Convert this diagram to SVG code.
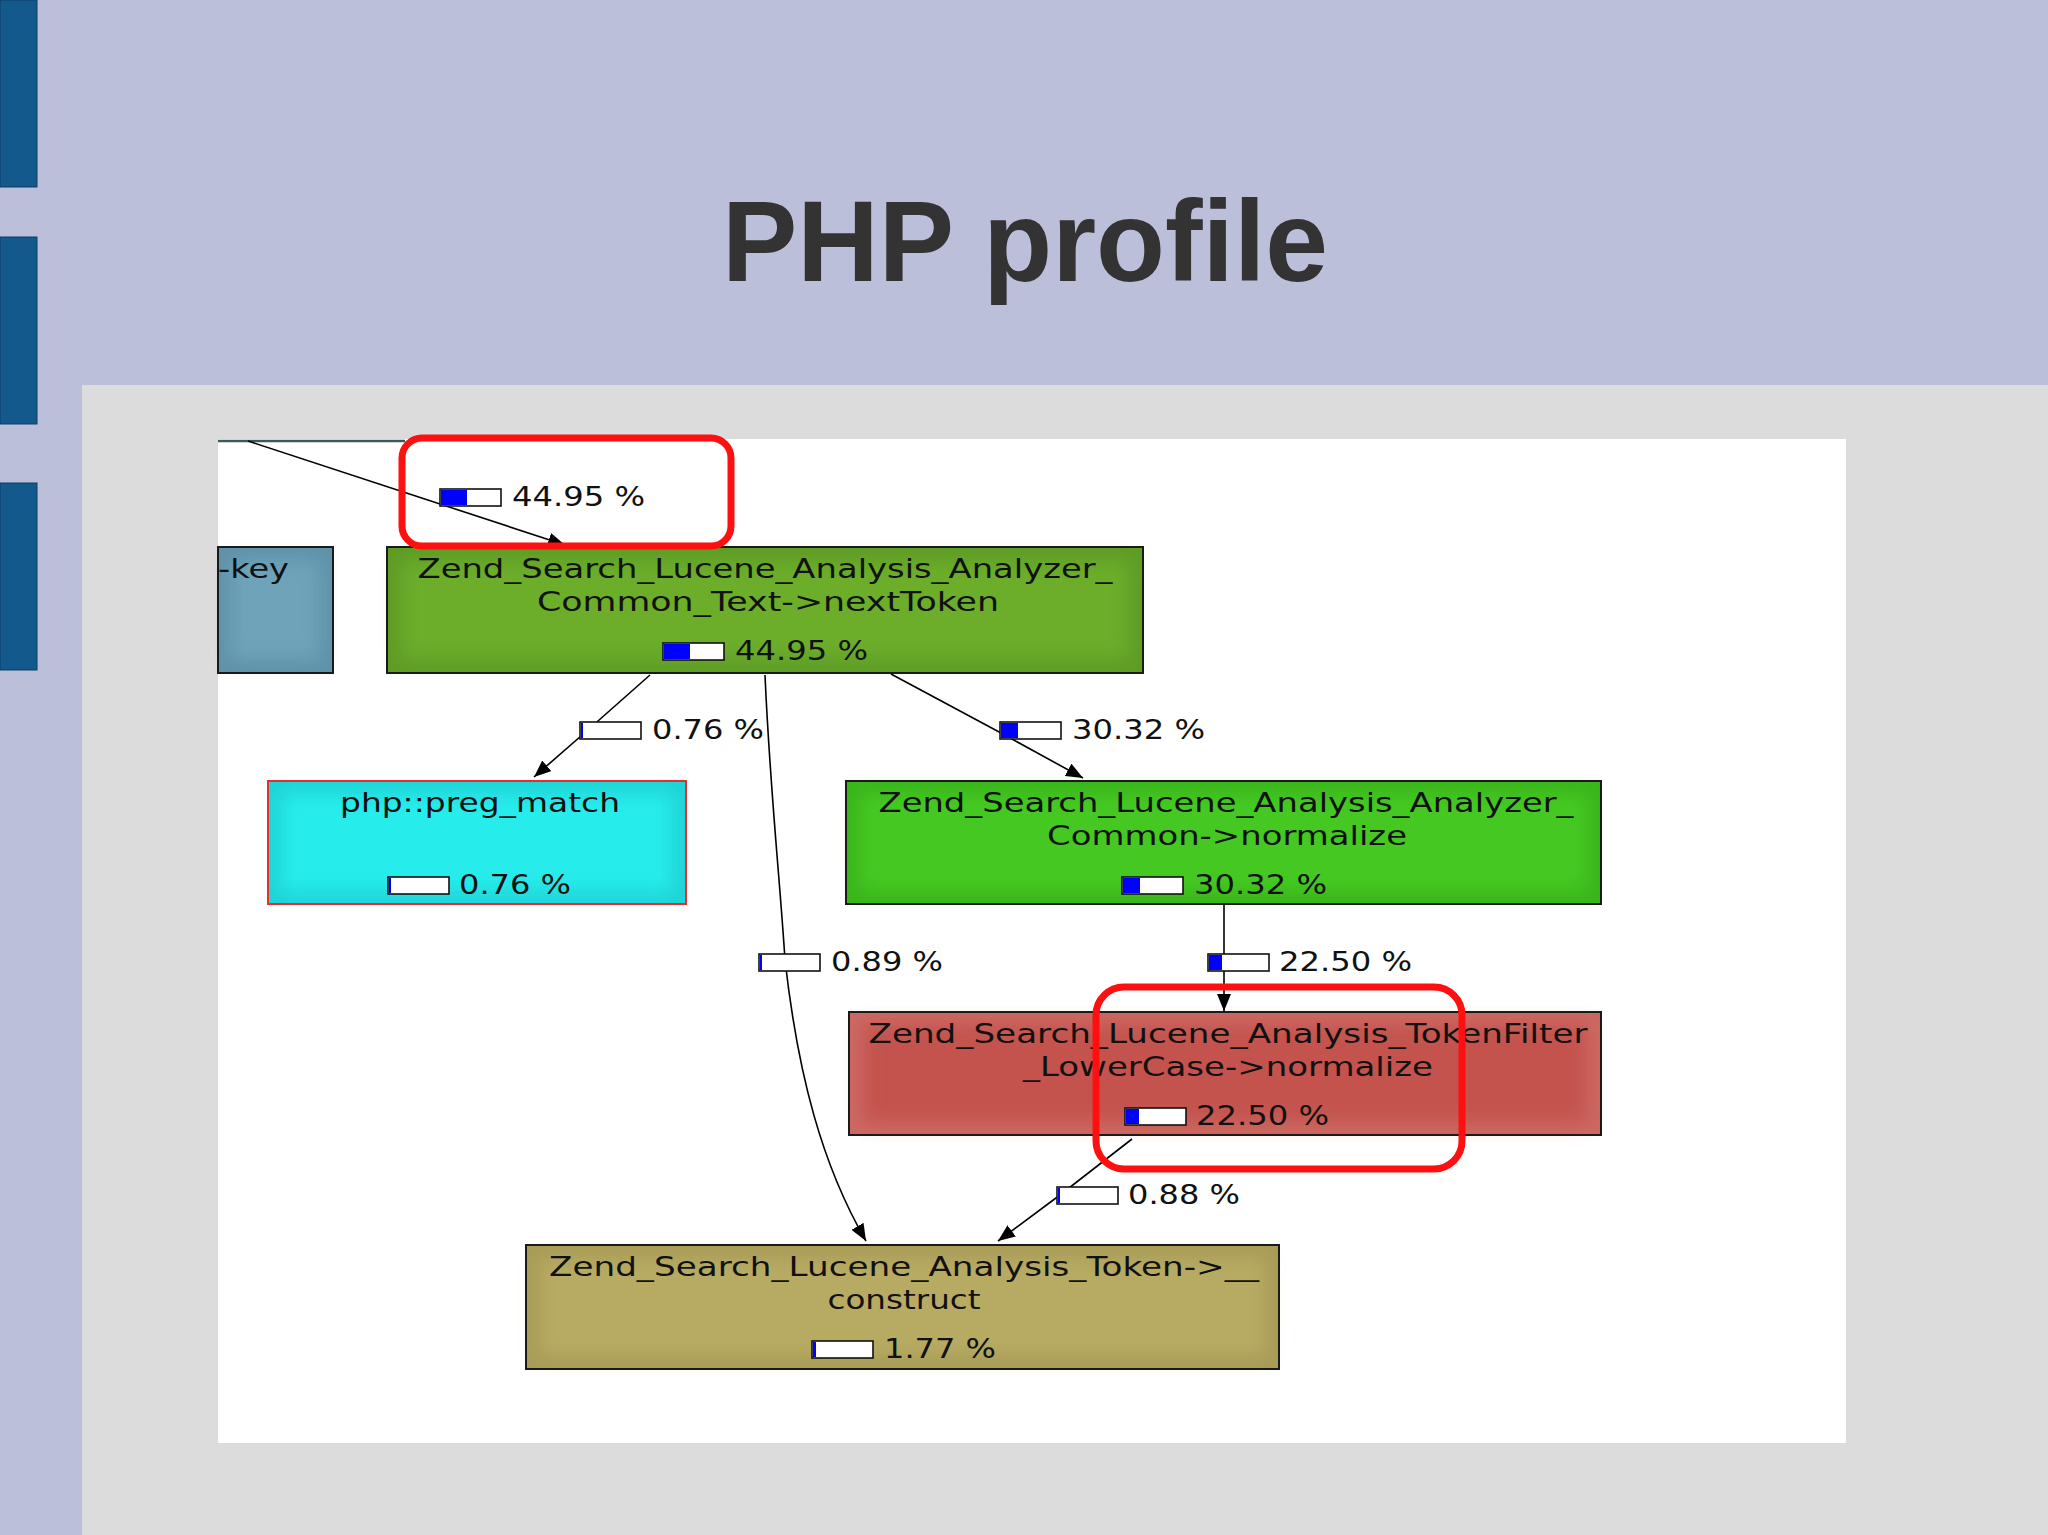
<svg xmlns="http://www.w3.org/2000/svg" width="2048" height="1535" viewBox="0 0 2048 1535">
<defs>
<style>
.t{font-family:"DejaVu Sans","Liberation Sans",sans-serif;font-size:27px;fill:#111;}
.nb{stroke:#1a1a1a;stroke-width:2;}
.bar{fill:#fff;stroke:#111;stroke-width:1.6;}
.blue{fill:#0000ff;}
.edge{fill:none;stroke:#000;stroke-width:1.6;}
.hl{fill:none;stroke:#ff1010;stroke-width:7;}
.glow{filter:url(#blur);}
</style>
<filter id="blur" x="-20%" y="-20%" width="140%" height="140%"><feGaussianBlur stdDeviation="9"/></filter>
<marker id="arr" markerUnits="userSpaceOnUse" markerWidth="18" markerHeight="14" refX="17" refY="7" orient="auto">
<path d="M0,0 L17,7 L0,14 z" fill="#000"/>
</marker>
</defs>
<rect x="0" y="0" width="2048" height="1535" fill="#bbbfda"/>
<rect x="0" y="0" width="37" height="187" fill="#13598b" stroke="#0c3f66" stroke-width="1"/>
<rect x="0" y="237" width="37" height="187" fill="#13598b" stroke="#0c3f66" stroke-width="1"/>
<rect x="0" y="483" width="37" height="187" fill="#13598b" stroke="#0c3f66" stroke-width="1"/>
<rect x="82" y="385" width="1966" height="1150" fill="#dcdcdc"/>
<rect x="218" y="439" width="1628" height="1004" fill="#ffffff"/>
<text x="1025" y="281" text-anchor="middle" font-family="Liberation Sans,Arial,sans-serif" font-weight="bold" font-size="115" fill="#333333" textLength="606" lengthAdjust="spacingAndGlyphs">PHP profile</text>

<line x1="218" y1="441" x2="405" y2="441" stroke="#3c5a5a" stroke-width="2.5"/>

<g id="node-key">
<rect x="218" y="547" width="115" height="126" fill="#5f92a8" class="nb"/>
<rect x="230" y="560" width="90" height="100" fill="#6ea3b9" class="glow"/>
<rect x="218" y="547" width="115" height="126" fill="none" class="nb"/>
<text class="t" x="218" y="578" textLength="71" lengthAdjust="spacingAndGlyphs">-key</text>
</g>

<g id="node-nextToken">
<rect x="387" y="547" width="756" height="126" fill="#5e9c25"/>
<rect x="402" y="561" width="726" height="98" fill="#6cad2c" class="glow"/>
<rect x="387" y="547" width="756" height="126" fill="none" class="nb"/>
<text class="t" x="765" y="578" text-anchor="middle" textLength="695" lengthAdjust="spacingAndGlyphs">Zend_Search_Lucene_Analysis_Analyzer_</text>
<text class="t" x="768" y="611" text-anchor="middle" textLength="462" lengthAdjust="spacingAndGlyphs">Common_Text-&gt;nextToken</text>
<rect class="bar" x="663" y="643" width="61" height="17"/>
<rect class="blue" x="664" y="644" width="26" height="15"/>
<text class="t" x="735" y="660" textLength="133" lengthAdjust="spacingAndGlyphs">44.95 %</text>
</g>

<g id="node-preg_match">
<rect x="268" y="781" width="418" height="123" fill="#1fd4d6"/>
<rect x="282" y="794" width="390" height="97" fill="#27ecec" class="glow"/>
<rect x="268" y="781" width="418" height="123" fill="none" stroke="#e03030" stroke-width="2"/>
<text class="t" x="480" y="812" text-anchor="middle" textLength="280" lengthAdjust="spacingAndGlyphs">php::preg_match</text>
<rect class="bar" x="388" y="877" width="61" height="17"/>
<rect class="blue" x="389" y="878" width="2" height="15"/>
<text class="t" x="459" y="894" textLength="112" lengthAdjust="spacingAndGlyphs">0.76 %</text>
</g>

<g id="node-normalize">
<rect x="846" y="781" width="755" height="123" fill="#3ab51b"/>
<rect x="860" y="794" width="727" height="97" fill="#45c923" class="glow"/>
<rect x="846" y="781" width="755" height="123" fill="none" class="nb"/>
<text class="t" x="1226" y="812" text-anchor="middle" textLength="695" lengthAdjust="spacingAndGlyphs">Zend_Search_Lucene_Analysis_Analyzer_</text>
<text class="t" x="1227" y="845" text-anchor="middle" textLength="360" lengthAdjust="spacingAndGlyphs">Common-&gt;normalize</text>
<rect class="bar" x="1122" y="877" width="61" height="17"/>
<rect class="blue" x="1123" y="878" width="17" height="15"/>
<text class="t" x="1194" y="894" textLength="133" lengthAdjust="spacingAndGlyphs">30.32 %</text>
</g>

<g id="node-lowercase">
<rect x="849" y="1012" width="752" height="123" fill="#cc6862"/>
<rect x="863" y="1025" width="724" height="97" fill="#c4524d" class="glow"/>
<rect x="849" y="1012" width="752" height="123" fill="none" class="nb"/>
<text class="t" x="1228" y="1043" text-anchor="middle" textLength="719" lengthAdjust="spacingAndGlyphs">Zend_Search_Lucene_Analysis_TokenFilter</text>
<text class="t" x="1228" y="1076" text-anchor="middle" textLength="410" lengthAdjust="spacingAndGlyphs">_LowerCase-&gt;normalize</text>
<rect class="bar" x="1125" y="1108" width="61" height="17"/>
<rect class="blue" x="1126" y="1109" width="13" height="15"/>
<text class="t" x="1196" y="1125" textLength="133" lengthAdjust="spacingAndGlyphs">22.50 %</text>
</g>

<g id="node-token">
<rect x="526" y="1245" width="753" height="124" fill="#a89b57"/>
<rect x="540" y="1258" width="725" height="98" fill="#b7ab64" class="glow"/>
<rect x="526" y="1245" width="753" height="124" fill="none" class="nb"/>
<text class="t" x="904" y="1276" text-anchor="middle" textLength="710" lengthAdjust="spacingAndGlyphs">Zend_Search_Lucene_Analysis_Token-&gt;__</text>
<text class="t" x="904" y="1309" text-anchor="middle" textLength="153" lengthAdjust="spacingAndGlyphs">construct</text>
<rect class="bar" x="812" y="1341" width="61" height="17"/>
<rect class="blue" x="813" y="1342" width="3" height="15"/>
<text class="t" x="884" y="1358" textLength="112" lengthAdjust="spacingAndGlyphs">1.77 %</text>
</g>

<g id="connectors">
<path class="edge" d="M248,441 L565,545" marker-end="url(#arr)"/>
<path class="edge" d="M650,675 L581,736 L534,777" marker-end="url(#arr)"/>
<path class="edge" d="M765,675 C770,790 780,880 785,960 C798,1075 822,1165 866,1241" marker-end="url(#arr)"/>
<path class="edge" d="M891,674 L1001,733 L1083,778" marker-end="url(#arr)"/>
<path class="edge" d="M1224,905 L1224,1011" marker-end="url(#arr)"/>
<path class="edge" d="M1132,1139 L1060,1195 L998,1241" marker-end="url(#arr)"/>

<g id="label-44">
<rect class="bar" x="440" y="489" width="61" height="17"/>
<rect class="blue" x="441" y="490" width="26" height="15"/>
<text class="t" x="512" y="506" textLength="133" lengthAdjust="spacingAndGlyphs">44.95 %</text>
</g>
<g id="label-076">
<rect class="bar" x="580" y="722" width="61" height="17"/>
<rect class="blue" x="581" y="723" width="2" height="15"/>
<text class="t" x="652" y="739" textLength="112" lengthAdjust="spacingAndGlyphs">0.76 %</text>
</g>
<g id="label-3032">
<rect class="bar" x="1000" y="722" width="61" height="17"/>
<rect class="blue" x="1001" y="723" width="17" height="15"/>
<text class="t" x="1072" y="739" textLength="133" lengthAdjust="spacingAndGlyphs">30.32 %</text>
</g>
<g id="label-089">
<rect class="bar" x="759" y="954" width="61" height="17"/>
<rect class="blue" x="760" y="955" width="2" height="15"/>
<text class="t" x="831" y="971" textLength="112" lengthAdjust="spacingAndGlyphs">0.89 %</text>
</g>
<g id="label-2250">
<rect class="bar" x="1208" y="954" width="61" height="17"/>
<rect class="blue" x="1209" y="955" width="13" height="15"/>
<text class="t" x="1279" y="971" textLength="133" lengthAdjust="spacingAndGlyphs">22.50 %</text>
</g>
<g id="label-088">
<rect class="bar" x="1057" y="1187" width="61" height="17"/>
<rect class="blue" x="1058" y="1188" width="2" height="15"/>
<text class="t" x="1128" y="1204" textLength="112" lengthAdjust="spacingAndGlyphs">0.88 %</text>
</g>
</g>

<g id="highlights">
<rect class="hl" x="402" y="438" width="329" height="108" rx="20"/>
<rect class="hl" x="1096" y="987" width="366" height="182" rx="28"/>
</g>
</svg>
